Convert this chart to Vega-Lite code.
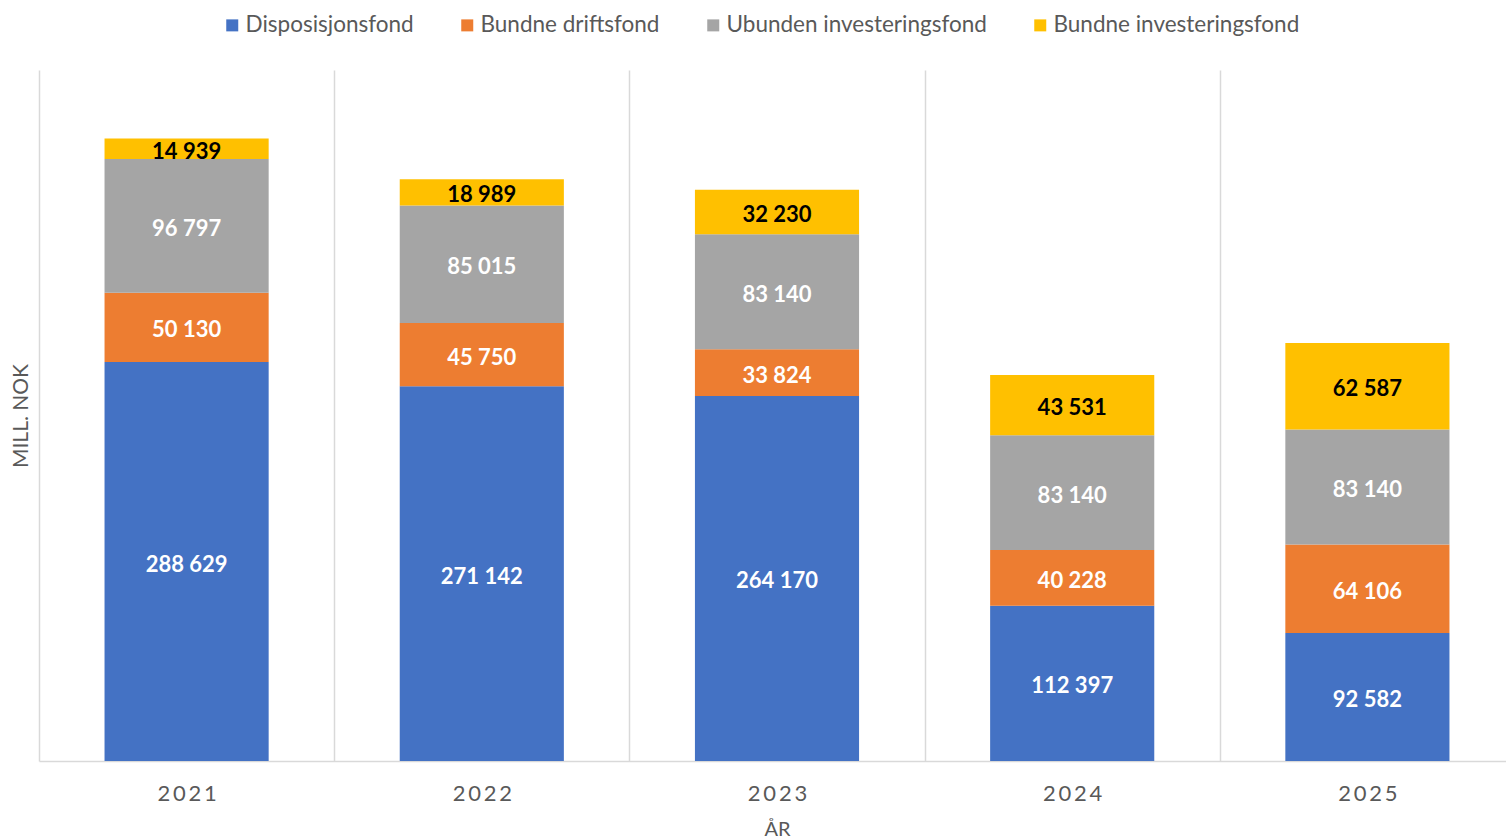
{
  "$schema": "https://vega.github.io/schema/vega-lite/v6.json",
  "width": 1467,
  "height": 691,
  "autosize": {"type": "none"},
  "padding": {"left": 39, "top": 70, "right": 0, "bottom": 79},
  "config": {
    "view": {"stroke": null},
    "locale": {"number": {"decimal": ",", "thousands": " ", "grouping": [3], "currency": ["", " kr"]}}
  },
  "data": {
    "values": [
      {"year": "2021", "type": "Disposisjonsfond", "n": 1, "value": 288629},
      {"year": "2021", "type": "Bundne driftsfond", "n": 2, "value": 50130},
      {"year": "2021", "type": "Ubunden investeringsfond", "n": 3, "value": 96797},
      {"year": "2021", "type": "Bundne investeringsfond", "n": 4, "value": 14939},
      {"year": "2022", "type": "Disposisjonsfond", "n": 1, "value": 271142},
      {"year": "2022", "type": "Bundne driftsfond", "n": 2, "value": 45750},
      {"year": "2022", "type": "Ubunden investeringsfond", "n": 3, "value": 85015},
      {"year": "2022", "type": "Bundne investeringsfond", "n": 4, "value": 18989},
      {"year": "2023", "type": "Disposisjonsfond", "n": 1, "value": 264170},
      {"year": "2023", "type": "Bundne driftsfond", "n": 2, "value": 33824},
      {"year": "2023", "type": "Ubunden investeringsfond", "n": 3, "value": 83140},
      {"year": "2023", "type": "Bundne investeringsfond", "n": 4, "value": 32230},
      {"year": "2024", "type": "Disposisjonsfond", "n": 1, "value": 112397},
      {"year": "2024", "type": "Bundne driftsfond", "n": 2, "value": 40228},
      {"year": "2024", "type": "Ubunden investeringsfond", "n": 3, "value": 83140},
      {"year": "2024", "type": "Bundne investeringsfond", "n": 4, "value": 43531},
      {"year": "2025", "type": "Disposisjonsfond", "n": 1, "value": 92582},
      {"year": "2025", "type": "Bundne driftsfond", "n": 2, "value": 64106},
      {"year": "2025", "type": "Ubunden investeringsfond", "n": 3, "value": 83140},
      {"year": "2025", "type": "Bundne investeringsfond", "n": 4, "value": 62587}
    ]
  },
  "transform": [
    {"stack": "value", "groupby": ["year"], "sort": [{"field": "n", "order": "ascending"}], "as": ["v0", "v1"]}
  ],
  "encoding": {
    "x": {
      "field": "year",
      "type": "ordinal",
      "scale": {"range": [0, 1476], "paddingInner": 0, "paddingOuter": 0},
      "axis": {
        "title": "ÅR",
        "tickBand": "extent",
        "grid": true,
        "gridColor": "#d9d9d9",
        "gridWidth": 1.5,
        "ticks": false,
        "domainColor": "#d9d9d9",
        "domainWidth": 1.5,
        "labelAngle": 0,
        "labelFont": "Lato",
        "labelFontSize": 22,
        "labelColor": "#595959",
        "labelPadding": 22,
        "labelExpr": "join(split(datum.label, ''), '\u2009')",
        "titleFont": "Lato",
        "titleFontSize": 20,
        "titleFontWeight": "normal",
        "titleColor": "#595959",
        "titlePadding": 15
      }
    }
  },
  "layer": [
    {
      "mark": {"type": "bar", "width": {"band": 0.556}},
      "encoding": {
        "y": {
          "field": "v0",
          "type": "quantitative",
          "scale": {"domain": [0, 500000], "nice": false},
          "axis": {
            "title": "MILL. NOK",
            "labels": false,
            "ticks": false,
            "domain": false,
            "grid": false,
            "titleFont": "Lato",
            "titleFontSize": 21,
            "titleFontWeight": "normal",
            "titleColor": "#595959",
            "titlePadding": 8
          }
        },
        "y2": {"field": "v1"},
        "color": {
          "field": "type",
          "type": "nominal",
          "sort": ["Disposisjonsfond", "Bundne driftsfond", "Ubunden investeringsfond", "Bundne investeringsfond"],
          "scale": {
            "domain": ["Disposisjonsfond", "Bundne driftsfond", "Ubunden investeringsfond", "Bundne investeringsfond"],
            "range": ["#4472C4", "#ED7D31", "#A5A5A5", "#FFC000"]
          },
          "legend": {
            "title": null,
            "orient": "none",
            "legendX": 182,
            "legendY": -56,
            "direction": "horizontal",
            "symbolType": "square",
            "symbolSize": 144,
            "symbolStrokeWidth": 0,
            "labelFont": "Lato",
            "labelFontSize": 22.5,
            "labelColor": "#595959",
            "labelOffset": 2,
            "columnPadding": 42,
            "labelLimit": 400
          }
        }
      }
    },
    {
      "mark": {
        "type": "text",
        "font": "Lato",
        "fontWeight": "bold",
        "fontSize": 22,
        "baseline": "middle",
        "dy": {"expr": "(scale('y', datum.v0) - scale('y', datum.v1)) / 2 + 3"}
      },
      "encoding": {
        "y": {"field": "v1", "type": "quantitative"},
        "text": {"field": "value", "type": "quantitative", "format": ","},
        "color": {
          "condition": {"test": "datum.type === 'Bundne investeringsfond'", "value": "#000000"},
          "value": "#ffffff"
        }
      }
    }
  ]
}
